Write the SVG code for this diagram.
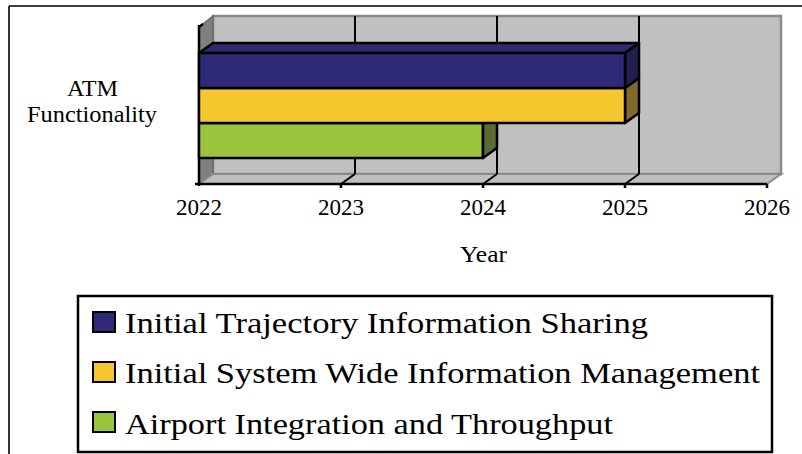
<svg xmlns="http://www.w3.org/2000/svg" width="802" height="454" viewBox="0 0 802 454">
<style>
.t{font-family:"Liberation Serif","Times New Roman",serif;fill:#000}
.ax{font-size:23px}
.lg{font-size:30px}
.bk{stroke:#000;stroke-width:2.5;fill:none}
.grid{stroke:#000;stroke-width:2;fill:none}
.edge{stroke:#000;stroke-width:2.5;stroke-linejoin:round}
</style>
<rect width="802" height="454" fill="#fff"/>
<g id="frame">
<path d="M9 6H802M9 6V454" stroke="#000" stroke-width="1.6" fill="none"/>
</g>
<g id="plot">
<rect x="213" y="16" width="568" height="158" fill="#c0c0c0" stroke="#8a8a8a" stroke-width="2.5"/>
<polygon points="199,27 213,16 213,174 199,184" fill="#808080" stroke="#6a6a6a" stroke-width="1.5"/>
<polygon points="199,184 213,174 781,174 767,184" fill="#c0c0c0" stroke="#8a8a8a" stroke-width="2"/>
<path class="grid" d="M355 16V174M497 16V174M639 16V174"/>
<path class="grid" d="M355 174L341 184M497 174L483 184M639 174L625 184"/>
<path class="bk" d="M199 184H767M199 25V186M195 184H199M199 27L203 24M341 184V188M483 184V188M625 184V188M767 184V188"/>
</g>
<g id="bar-green">
<polygon class="edge" points="199,123 483,123 483,158 199,158" fill="#99c43c"/>
<polygon class="edge" points="483,123 497,113 497,148 483,158" fill="#5b6b33"/>
</g>
<g id="bar-yellow">
<polygon class="edge" points="625,88 639,78 639,113 625,123" fill="#806a2a"/>
<polygon class="edge" points="199,88 625,88 625,123 199,123" fill="#f4c72f"/>
</g>
<g id="bar-blue">
<polygon class="edge" points="199,53 213,43 639,43 625,53" fill="#2f2b6c"/>
<polygon class="edge" points="625,53 639,43 639,78 625,88" fill="#221f4f"/>
<polygon class="edge" points="199,53 625,53 625,88 199,88" fill="#2e2a78"/>
</g>
<g id="axis-labels">
<text class="t ax" x="67" y="96" textLength="51" lengthAdjust="spacingAndGlyphs">ATM</text>
<text class="t ax" x="27" y="122" textLength="130" lengthAdjust="spacingAndGlyphs">Functionality</text>
<text class="t ax" x="199" y="215" text-anchor="middle">2022</text>
<text class="t ax" x="341" y="215" text-anchor="middle">2023</text>
<text class="t ax" x="483" y="215" text-anchor="middle">2024</text>
<text class="t ax" x="625" y="215" text-anchor="middle">2025</text>
<text class="t ax" x="767" y="215" text-anchor="middle">2026</text>
<text class="t ax" x="460" y="262" textLength="47" lengthAdjust="spacingAndGlyphs">Year</text>
</g>
<g id="legend">
<rect x="78" y="296" width="694" height="156" fill="#fff" stroke="#000" stroke-width="2.5"/>
<rect x="93" y="312" width="22" height="20" fill="#2e2a78" stroke="#000" stroke-width="2"/>
<rect x="93" y="362" width="22" height="20" fill="#f4c72f" stroke="#000" stroke-width="2"/>
<rect x="93" y="412" width="22" height="20" fill="#99c43c" stroke="#000" stroke-width="2"/>
<text class="t lg" x="125" y="333" textLength="523" lengthAdjust="spacingAndGlyphs">Initial Trajectory Information Sharing</text>
<text class="t lg" x="125" y="383" textLength="635" lengthAdjust="spacingAndGlyphs">Initial System Wide Information Management</text>
<text class="t lg" x="125" y="434" textLength="488" lengthAdjust="spacingAndGlyphs">Airport Integration and Throughput</text>
</g>
</svg>
